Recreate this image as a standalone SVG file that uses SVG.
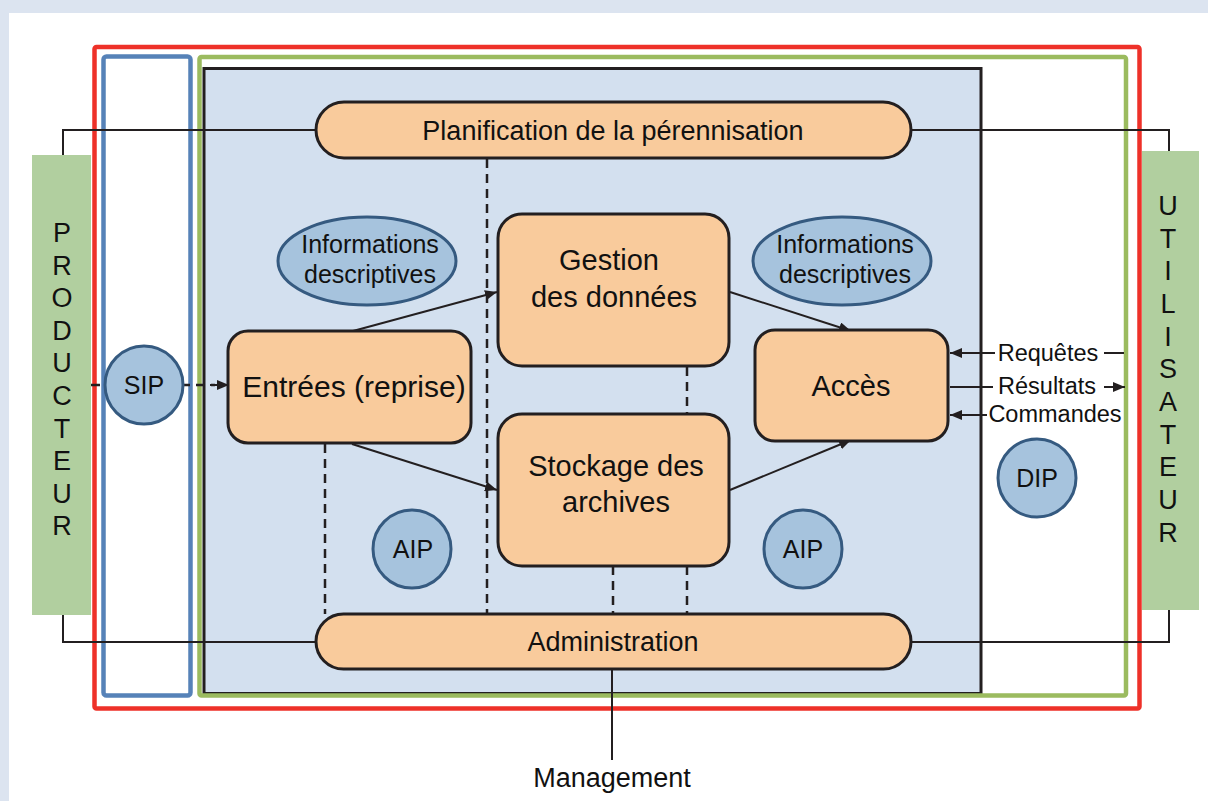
<svg xmlns="http://www.w3.org/2000/svg" width="1208" height="801" viewBox="0 0 1208 801">
<defs>
<style>
.t{font-family:"Liberation Sans",Arial,sans-serif;fill:#111;text-anchor:middle}
.box{fill:#f9cb9c;stroke:#231f20;stroke-width:3}
.pk{fill:#a6c3dd;stroke:#355a80;stroke-width:3}
.ln{stroke:#231f20;stroke-width:2;fill:none}
.dash{stroke:#231f20;stroke-width:2.5;fill:none;stroke-dasharray:9,6}
.arr{stroke:#231f20;stroke-width:2;fill:none;marker-end:url(#ah)}
</style>
<marker id="ah" viewBox="0 0 12 10" refX="12" refY="5" markerWidth="12" markerHeight="10" markerUnits="userSpaceOnUse" orient="auto">
<path d="M0,0 L12,5 L0,10 Z" fill="#231f20"/>
</marker>
</defs>
<rect x="0" y="0" width="1208" height="801" fill="#dce4f0"/>
<rect x="9" y="13" width="1199" height="788" fill="#ffffff"/>

<g id="producteur">
<rect x="32" y="155" width="59" height="460" fill="#b1cf9f"/>
<text class="t" font-size="27"><tspan x="62" y="242">P</tspan><tspan x="62" y="275">R</tspan><tspan x="62" y="307">O</tspan><tspan x="62" y="340">D</tspan><tspan x="62" y="372">U</tspan><tspan x="62" y="405">C</tspan><tspan x="62" y="438">T</tspan><tspan x="62" y="470">E</tspan><tspan x="62" y="503">U</tspan><tspan x="62" y="535">R</tspan></text>
</g>
<g id="utilisateur">
<rect x="1142" y="151" width="57" height="459" fill="#b1cf9f"/>
<text class="t" font-size="27"><tspan x="1168" y="215">U</tspan><tspan x="1168" y="248">T</tspan><tspan x="1168" y="280">I</tspan><tspan x="1168" y="313">L</tspan><tspan x="1168" y="346">I</tspan><tspan x="1168" y="378">S</tspan><tspan x="1168" y="411">A</tspan><tspan x="1168" y="444">T</tspan><tspan x="1168" y="476">E</tspan><tspan x="1168" y="509">U</tspan><tspan x="1168" y="542">R</tspan></text>
</g>

<g id="frames">
<rect x="204" y="68.5" width="777" height="625" fill="#d3e0ef" stroke="#231f20" stroke-width="3"/>
<rect x="94.5" y="47" width="1045" height="661.5" fill="none" stroke="#ee3129" stroke-width="4.5" rx="2"/>
<rect x="103.5" y="56.5" width="87" height="639" fill="none" stroke="#5682b8" stroke-width="4.5" rx="3"/>
<rect x="199.5" y="57" width="926.5" height="638.5" fill="none" stroke="#9bbb5f" stroke-width="4.5" rx="2"/>
</g>

<g id="connectors">
<polyline class="ln" points="63,155 63,130 1169,130 1169,151"/>
<polyline class="ln" points="63,615 63,642 1169,642 1169,610"/>
<line class="ln" x1="612" y1="669" x2="612" y2="760"/>
<line class="dash" x1="91" y1="385" x2="215" y2="385"/>
<line class="arr" x1="210" y1="385" x2="229" y2="385"/>
<line class="dash" x1="487" y1="159" x2="487" y2="614"/>
<line class="dash" x1="325" y1="444" x2="325" y2="614"/>
<line class="dash" x1="687" y1="367" x2="687" y2="413"/>
<line class="dash" x1="613" y1="566" x2="613" y2="614"/>
<line class="dash" x1="687" y1="566" x2="687" y2="614"/>
<line class="arr" x1="353" y1="331" x2="497" y2="292"/>
<line class="arr" x1="352" y1="444" x2="497" y2="490"/>
<line class="arr" x1="730" y1="292" x2="851" y2="331"/>
<line class="arr" x1="730" y1="490" x2="851" y2="440"/>
<line class="arr" x1="995" y1="353" x2="950" y2="353"/>
<line class="ln" x1="1104" y1="353" x2="1124" y2="353"/>
<line class="ln" x1="950" y1="387" x2="993" y2="387"/>
<line class="arr" x1="1104" y1="387" x2="1125" y2="387"/>
<line class="arr" x1="987" y1="415" x2="950" y2="415"/>
</g>
<text class="t" font-size="23.5" x="1048" y="361">Requêtes</text>
<text class="t" font-size="23.5" x="1047" y="394">Résultats</text>
<text class="t" font-size="23.5" x="1055" y="422">Commandes</text>

<g id="planification">
<rect class="box" x="316" y="102" width="595" height="56" rx="28"/>
<text class="t" font-size="27" x="613" y="140">Planification de la pérennisation</text>
</g>
<g id="administration">
<rect class="box" x="316" y="614" width="595" height="55" rx="27.5"/>
<text class="t" font-size="27" x="613" y="651">Administration</text>
</g>
<g id="entrees">
<rect class="box" x="228" y="331" width="243" height="112" rx="20"/>
<text class="t" font-size="30" x="354" y="397">Entrées (reprise)</text>
</g>
<g id="gestion">
<rect class="box" x="498" y="214" width="231" height="152" rx="24"/>
<text class="t" font-size="29" x="609" y="270">Gestion</text>
<text class="t" font-size="29" x="614" y="307">des données</text>
</g>
<g id="stockage">
<rect class="box" x="498" y="414" width="231" height="152" rx="24"/>
<text class="t" font-size="29" x="616" y="476">Stockage des</text>
<text class="t" font-size="29" x="616" y="512">archives</text>
</g>
<g id="acces">
<rect class="box" x="755" y="330" width="193" height="111" rx="20"/>
<text class="t" font-size="29" x="851" y="396">Accès</text>
</g>
<g id="info-left">
<ellipse class="pk" cx="367" cy="261" rx="89" ry="44"/>
<text class="t" font-size="25" x="370" y="253">Informations</text>
<text class="t" font-size="25" x="370" y="283">descriptives</text>
</g>
<g id="info-right">
<ellipse class="pk" cx="842" cy="261" rx="89" ry="44"/>
<text class="t" font-size="25" x="845" y="253">Informations</text>
<text class="t" font-size="25" x="845" y="283">descriptives</text>
</g>
<g id="sip">
<circle class="pk" cx="144" cy="385" r="39"/>
<text class="t" font-size="25" x="144" y="394">SIP</text>
</g>
<g id="aip-left">
<circle class="pk" cx="412" cy="549" r="39"/>
<text class="t" font-size="25" x="413" y="558">AIP</text>
</g>
<g id="aip-right">
<circle class="pk" cx="803" cy="549" r="39"/>
<text class="t" font-size="25" x="803" y="558">AIP</text>
</g>
<g id="dip">
<circle class="pk" cx="1037" cy="478" r="39"/>
<text class="t" font-size="25" x="1037" y="487">DIP</text>
</g>
<text class="t" font-size="27" x="612" y="787">Management</text>
</svg>
